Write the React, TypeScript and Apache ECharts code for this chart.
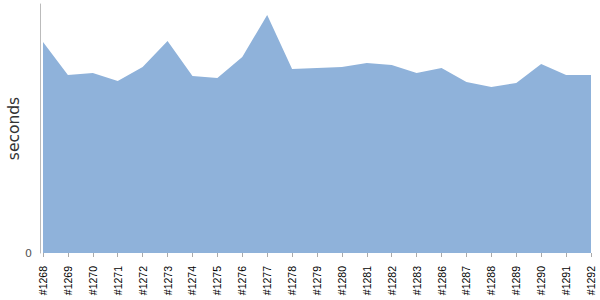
import React, { useEffect, useRef } from "react";
import * as echarts from "echarts";

const categories = [
  "#1268", "#1269", "#1270", "#1271", "#1272", "#1273", "#1274", "#1275",
  "#1276", "#1277", "#1278", "#1279", "#1280", "#1281", "#1282", "#1283",
  "#1286", "#1287", "#1288", "#1289", "#1290", "#1291", "#1292",
];
const seconds = [
  211, 178, 180, 172, 186, 212, 177, 175, 196, 238, 184, 185, 186, 190, 188,
  180, 185, 171, 166, 170, 189, 178, 178,
];
const yMax = 249;

export default function App() {
  const ref = useRef<HTMLDivElement>(null);
  useEffect(() => {
    const chart = echarts.init(ref.current!, null, { renderer: "svg" });
    chart.setOption({
      animation: false,
      grid: { left: 43, right: 9, top: 4, bottom: 47, outerBoundsMode: "none", containLabel: false },
      xAxis: {
        type: "category",
        data: categories,
        boundaryGap: false,
        axisLine: { show: false },
        axisTick: { show: true, length: 4, alignWithLabel: true, interval: 0, lineStyle: { color: "#aaa" } },
        axisLabel: {
          rotate: 90,
          interval: 0,
          fontSize: 10.5,
          color: "#000",
          fontFamily: "Liberation Sans",
          margin: 13,
        },
      },
      yAxis: {
        type: "value",
        min: 0,
        max: yMax,
        interval: 300,
        offset: 3,
        name: "seconds",
        nameLocation: "middle",
        nameGap: 18,
        nameMoveOverlap: false,
        nameTextStyle: { fontSize: 15.5, color: "#333", fontFamily: "DejaVu Sans" },
        axisLine: { show: true, lineStyle: { color: "#bbb" } },
        axisTick: { show: false },
        splitLine: { show: false },
        axisLabel: {
          fontSize: 11,
          color: "#555",
          fontFamily: "DejaVu Sans",
          margin: 8,
          formatter: (v: number) => (v === 0 ? "0" : ""),
        },
      },
      series: [
        {
          type: "line",
          data: seconds,
          symbol: "none",
          lineStyle: { width: 0 },
          areaStyle: { color: "#8fb2da", opacity: 1 },
        },
      ],
    });
    return () => chart.dispose();
  }, []);
  return (
    <div
      ref={ref}
      style={{ position: "absolute", left: 0, top: 0, width: 600, height: 300 }}
    />
  );
}
